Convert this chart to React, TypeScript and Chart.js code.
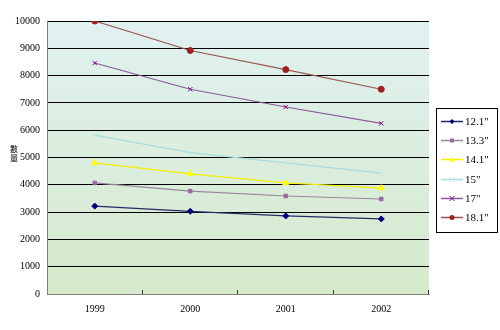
import React, { useEffect, useRef } from "react";
import { Chart, registerables } from "chart.js";

Chart.register(...registerables);

const years = ["1999", "2000", "2001", "2002"];
const seriesNames = ['12.1"', '13.3"', '14.1"', '15"', '17"', '18.1"'];
const s121 = [3220, 3030, 2860, 2750];
const s133 = [4070, 3770, 3590, 3480];
const s141 = [4800, 4400, 4070, 3880];
const s15 = [5820, 5180, 4800, 4430];
const s17 = [8460, 7500, 6850, 6250];
const s181 = [10000, 8920, 8220, 7500];
const yTitle = ["數", "量"];

const styles = [
  { line: "#2a2a66", point: "#000080", shape: "rectRot", r: 3 },
  { line: "#9a869a", point: "#9a6aa0", shape: "rect", r: 2.5 },
  { line: "#f0f000", point: "#ffff00", shape: "triangle", r: 3.5 },
  { line: "#a8dce0", point: "#bfeaf0", shape: "crossRot", r: 3.5 },
  { line: "#8a5a98", point: "#800080", shape: "crossRot", r: 3 },
  { line: "#9a5650", point: "#a02020", shape: "circle", r: 3 },
];

function marker(ctx: CanvasRenderingContext2D, shape: string, x: number, y: number, c: string) {
  ctx.save();
  ctx.fillStyle = c;
  ctx.strokeStyle = c;
  ctx.lineWidth = 1;
  ctx.beginPath();
  if (shape === "rectRot") {
    ctx.moveTo(x, y - 2.5); ctx.lineTo(x + 2.5, y); ctx.lineTo(x, y + 2.5); ctx.lineTo(x - 2.5, y); ctx.closePath(); ctx.fill();
  } else if (shape === "rect") {
    ctx.rect(x - 2, y - 2, 4, 4); ctx.fill();
  } else if (shape === "triangle") {
    ctx.moveTo(x, y - 3); ctx.lineTo(x + 3, y + 2); ctx.lineTo(x - 3, y + 2); ctx.closePath(); ctx.fill();
  } else if (shape === "crossRot") {
    ctx.moveTo(x - 2.5, y - 2.5); ctx.lineTo(x + 2.5, y + 2.5); ctx.moveTo(x + 2.5, y - 2.5); ctx.lineTo(x - 2.5, y + 2.5); ctx.stroke();
  } else {
    ctx.arc(x, y, 2.5, 0, Math.PI * 2); ctx.fill();
  }
  ctx.restore();
}

const decor = {
  id: "decor",
  beforeDraw(chart: any) {
    const { ctx, chartArea: a } = chart;
    ctx.save();
    const g = ctx.createLinearGradient(0, a.top, 0, a.bottom);
    g.addColorStop(0, "#e0f1f1");
    g.addColorStop(1, "#d6eacb");
    ctx.fillStyle = g;
    ctx.fillRect(a.left, a.top, a.right - a.left, a.bottom - a.top);
    ctx.restore();
  },
  afterDraw(chart: any) {
    const { ctx, chartArea: a } = chart;
    ctx.save();
    ctx.strokeStyle = "#333";
    ctx.lineWidth = 1;
    for (let i = 1; i <= years.length; i++) {
      const x = Math.round(a.left + (i * (a.right - a.left)) / years.length) - 0.5;
      ctx.beginPath();
      ctx.moveTo(x, a.bottom);
      ctx.lineTo(x, a.bottom - 4);
      ctx.stroke();
    }
    ctx.fillStyle = "#000";
    ctx.font = "8px 'Noto Sans CJK TC'";
    ctx.textAlign = "center";
    ctx.textBaseline = "middle";
    yTitle.forEach((c, i) => ctx.fillText(c, 14, 149 + i * 9));
    const lx = 436, ly = 108, lw = 61, lh = 124;
    ctx.fillStyle = "#fff";
    ctx.fillRect(lx, ly, lw, lh);
    ctx.strokeStyle = "#000";
    ctx.strokeRect(lx + 0.5, ly + 0.5, lw, lh);
    chart.data.datasets.forEach((ds: any, i: number) => {
      const y = Math.round(121 + i * 19.2) + 0.5;
      ctx.strokeStyle = ds.borderColor;
      ctx.lineWidth = 1.5;
      ctx.beginPath();
      ctx.moveTo(441, y);
      ctx.lineTo(463, y);
      ctx.stroke();
      marker(ctx, styles[i].shape, 452, y, styles[i].point);
      ctx.fillStyle = "#000";
      ctx.font = "11px 'Liberation Serif'";
      ctx.textAlign = "left";
      ctx.textBaseline = "middle";
      ctx.fillText(ds.label, 465, y + 1);
    });
    ctx.restore();
  },
};

export default function App() {
  const ref = useRef<HTMLCanvasElement>(null);
  useEffect(() => {
    const values = [s121, s133, s141, s15, s17, s181];
    const chart = new Chart(ref.current!, {
      type: "line",
      data: {
        labels: years,
        datasets: values.map((v, i) => ({
          label: seriesNames[i],
          data: v,
          borderColor: styles[i].line,
          backgroundColor: styles[i].point,
          pointBackgroundColor: styles[i].point,
          pointBorderColor: styles[i].point,
          pointBorderWidth: 1,
          pointStyle: styles[i].shape as any,
          pointRadius: styles[i].r,
          borderWidth: 1.2,
          tension: 0,
        })),
      },
      options: {
        animation: false,
        responsive: false,
        devicePixelRatio: 1,
        layout: { padding: { top: 21, right: 71, left: 0, bottom: 0 } },
        plugins: { legend: { display: false }, tooltip: { enabled: false } },
        scales: {
          x: {
            offset: true,
            grid: { display: false, drawTicks: false },
            border: { color: "#808080", width: 1 },
            ticks: { color: "#000", font: { family: "Liberation Serif", size: 10 }, padding: 9 },
            afterFit: (s: any) => { s.height = 36; },
          },
          y: {
            min: 0,
            max: 10000,
            grid: { color: "#000", drawTicks: false, lineWidth: 1 },
            border: { color: "#808080", width: 1 },
            ticks: {
              stepSize: 1000,
              color: "#000",
              font: { family: "Liberation Serif", size: 10 },
              padding: 7,
              callback: (v: any) => String(v),
            },
            afterFit: (s: any) => { s.width = 47; },
          },
        },
      },
      plugins: [decor],
    });
    return () => chart.destroy();
  }, []);
  return (
    <div style={{ position: "fixed", left: 0, top: 0, width: 500, height: 330, background: "#fff" }}>
      <canvas ref={ref} width={500} height={330} style={{ width: 500, height: 330 }} />
    </div>
  );
}
